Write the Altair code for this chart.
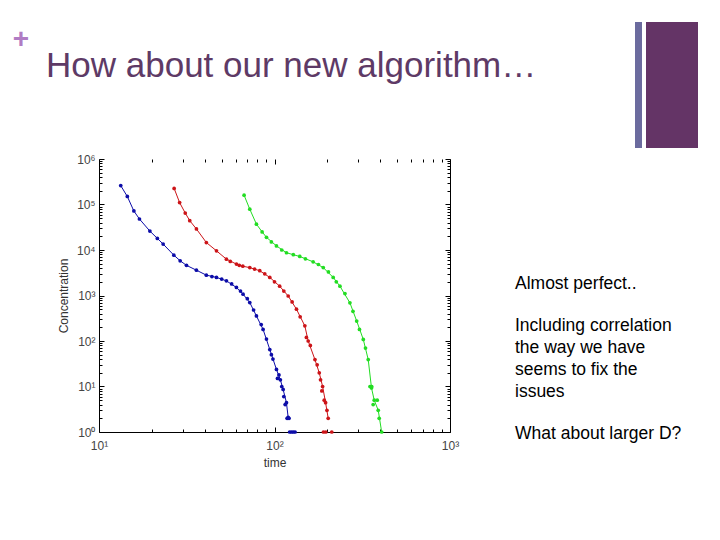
import altair as alt
import pandas as pd

# ---------------- data ----------------
series_names = ["blue", "red", "green"]
series_colors = ["#0c0ca8", "#cc1418", "#22dd22"]

blue_t = [13.3, 14.5, 15.8, 17, 19.5, 21.5, 23.2, 26.7, 29, 31.5, 35.9, 40.9, 46.7, 53.2,
          60.7, 66.2, 72.3, 78.9, 86.1, 94, 102.6, 108, 112, 117, 119.6]
blue_c = [2.6e5, 1.5e5, 7.2e4, 4.8e4, 2.6e4, 1.8e4, 1.35e4, 7.7e3, 5.8e3, 4.6e3, 3.6e3, 2.8e3,
          2.5e3, 2.1e3, 1.5e3, 1.07e3, 700, 355, 180, 65, 23.7, 14, 8.6, 4.4, 2.1]
blue_xt = [44, 50, 57, 64, 70, 76, 84, 90, 96, 98, 104, 106, 110, 113, 115, 118, 121, 122, 125,
           128, 131]
blue_xc = [2.6e3, 2.3e3, 1.8e3, 1.25e3, 850, 480, 230, 110, 50, 40, 15, 18, 10, 6, 4, 2, 2, 1, 1,
           1, 1]

red_t = [26.8, 28.8, 31, 32.9, 35.9, 40.9, 46.7, 53.2, 60.7, 66, 72.3, 82.4, 94, 107, 119.7,
         133.4, 148.9, 155.6, 170, 179.9, 188, 195.5, 202.3]
red_c = [2.26e5, 1.1e5, 6.5e4, 4.4e4, 2.9e4, 1.46e4, 9.6e3, 6.3e3, 4.9e3, 4.4e3, 4.1e3, 3.5e3,
         2.5e3, 1.6e3, 975, 500, 215, 100, 39, 20, 10, 4.4, 2]
red_xt = [56, 63, 77, 88, 100, 113, 126, 140, 152, 160, 175, 183, 186, 192, 199, 190, 196, 212]
red_xc = [5.6e3, 4.6e3, 3.8e3, 3.0e3, 2.0e3, 1.25e3, 720, 340, 120, 80, 30, 14, 8, 5, 3, 1, 1, 1]

green_t = [67.1, 72.3, 78.9, 85, 90, 102.6, 117, 139.3, 166, 189.6, 216, 236, 269, 294, 320.6,
           342, 357, 370, 390, 408]
green_c = [1.6e5, 7.9e4, 3.7e4, 2.5e4, 1.9e4, 1.23e4, 8.7e3, 7.2e3, 5.5e3, 4.1e3, 2.5e3, 1.6e3,
           690, 275, 108, 39, 9.3, 5, 3, 1]
green_xt = [96, 110, 128, 150, 178, 203, 225, 252, 280, 305, 330, 350, 355, 358, 365, 385, 395]
green_xc = [1.5e4, 1.0e4, 7.9e3, 6.4e3, 4.8e3, 3.3e3, 2.0e3, 1.1e3, 450, 180, 70, 10, 10, 10, 4,
            5, 2]

x_ticks = [m * 10 ** e for e in (1, 2) for m in range(1, 10)] + [1000]
y_ticks = [m * 10 ** e for e in range(6) for m in range(1, 10)] + [1000000]

slide_title = "How about our new algorithm\u2026"
side_lines = ["Almost perfect..", "Including correlation", "the way we have",
              "seems to fix the", "issues", "What about larger D?"]
side_baselines = [130, 172, 194, 216, 238, 280]

# ---------------- tables ----------------
rows_line, rows_pts = [], []
for name, t, c, xt, xc in [("blue", blue_t, blue_c, blue_xt, blue_xc),
                           ("red", red_t, red_c, red_xt, red_xc),
                           ("green", green_t, green_c, green_xt, green_xc)]:
    for a, b in zip(t, c):
        rows_line.append({"t": a, "c": b, "s": name})
        rows_pts.append({"t": a, "c": b, "s": name})
    for a, b in zip(xt, xc):
        rows_pts.append({"t": a, "c": b, "s": name})
df_line = pd.DataFrame(rows_line)
df_pts = pd.DataFrame(rows_pts)

W, H = 351, 273
FONT = "Liberation Sans"
major_test = "abs(log(datum.value)/LN10 - round(log(datum.value)/LN10)) < 0.001"
lab_expr = ("abs(log(datum.value)/LN10 - round(log(datum.value)/LN10)) < 0.001 ? "
            "'10' + ['\u2070','\u00b9','\u00b2','\u00b3','\u2074','\u2075','\u2076']"
            "[round(log(datum.value)/LN10)] : ''")
tick_size = {"condition": {"test": major_test, "value": 5}, "value": 3}

xs = alt.Scale(type="log", domain=[10, 1000], nice=False)
ys = alt.Scale(type="log", domain=[1, 1000000], nice=False)
color = alt.Color("s:N", scale=alt.Scale(domain=series_names, range=series_colors), legend=None)

# axes with labels (bottom / left)
x_lab = alt.Axis(orient="bottom", values=x_ticks, labelExpr=lab_expr, ticks=False, tickSize=0,
                 domain=True, domainColor="black", grid=False, title="time", labelFont=FONT,
                 labelFontSize=12, labelColor="#444444", labelPadding=8, titleFont=FONT,
                 titleFontSize=12, titleFontWeight="normal", titleColor="#333333",
                 titlePadding=6, labelFlush=False, labelOverlap=False)
y_lab = alt.Axis(orient="left", values=y_ticks, labelExpr=lab_expr, ticks=False, tickSize=0,
                 domain=True, domainColor="black", grid=False, title="Concentration",
                 labelFont=FONT, labelFontSize=12, labelColor="#444444", labelPadding=4,
                 titleFont=FONT, titleFontSize=12, titleFontWeight="normal",
                 titleColor="#333333", titlePadding=6, labelFlush=False, labelOverlap=False)
# inward ticks bottom and left
x_in_b = alt.Axis(orient="top", offset=-H, values=x_ticks, labels=False, domain=False,
                  grid=False, title=None, tickColor="black", tickSize=tick_size)
y_in_l = alt.Axis(orient="right", offset=-W, values=y_ticks, labels=False, domain=False,
                  grid=False, title=None, tickColor="black", tickSize=tick_size)
# inward ticks top and right (with right border)
x_in_t = alt.Axis(orient="bottom", offset=-H, values=x_ticks, labels=False, domain=False,
                  grid=False, title=None, tickColor="black", tickSize=tick_size)
y_in_r = alt.Axis(orient="left", offset=-W, values=y_ticks, labels=False, domain=True,
                  domainColor="black", grid=False, title=None, tickColor="black",
                  tickSize=tick_size)

lines = alt.Chart(df_line).mark_line(strokeWidth=1).encode(
    x=alt.X("t:Q", scale=xs, axis=x_lab),
    y=alt.Y("c:Q", scale=ys, axis=y_lab),
    color=color, detail="s:N")
points = alt.Chart(df_pts).mark_circle(size=14, opacity=1).encode(
    x=alt.X("t:Q", scale=xs, axis=x_in_b),
    y=alt.Y("c:Q", scale=ys, axis=y_in_l),
    color=color)
ghost = alt.Chart(df_line).mark_circle(size=1, opacity=0).encode(
    x=alt.X("t:Q", scale=xs, axis=x_in_t),
    y=alt.Y("c:Q", scale=ys, axis=y_in_r))

# ---------------- slide decorations ----------------
plus = alt.Chart(pd.DataFrame({"t": ["+"]})).mark_text(
    font=FONT, fontSize=28, fontWeight="bold", color="#b07cc4", align="center",
    baseline="middle").encode(x=alt.value(-78), y=alt.value(-119), text="t:N")
title = alt.Chart(pd.DataFrame({"t": [slide_title]})).mark_text(
    font=FONT, fontSize=35, color="#5e3a66", align="left", baseline="alphabetic").encode(
    x=alt.value(-53), y=alt.value(-82), text="t:N")
side = alt.Chart(pd.DataFrame({"t": side_lines, "b": side_baselines})).mark_text(
    font=FONT, fontSize=17.5, color="black", align="left", baseline="alphabetic").encode(
    x=alt.value(416), y=alt.Y("b:Q", scale=None), text="t:N")
bar_thin = alt.Chart(pd.DataFrame({"k": [0]})).mark_rect(color="#6b6b9e").encode(
    x=alt.value(536), x2=alt.value(543), y=alt.value(-137), y2=alt.value(-11))
bar_thick = alt.Chart(pd.DataFrame({"k": [0]})).mark_rect(color="#643466").encode(
    x=alt.value(547), x2=alt.value(599), y=alt.value(-137), y2=alt.value(-11))

chart = alt.layer(lines, points, ghost, plus, title, side, bar_thin, bar_thick).resolve_scale(
    x="independent", y="independent").resolve_axis(x="independent", y="independent").properties(
    width=W, height=H,
    autosize=alt.AutoSizeParams(type="none"),
    padding={"left": 91, "top": 151, "right": 262, "bottom": 100},
    background="white").configure_view(stroke="transparent")

chart.save("out.html", embed_options={"renderer": "svg", "actions": False})
